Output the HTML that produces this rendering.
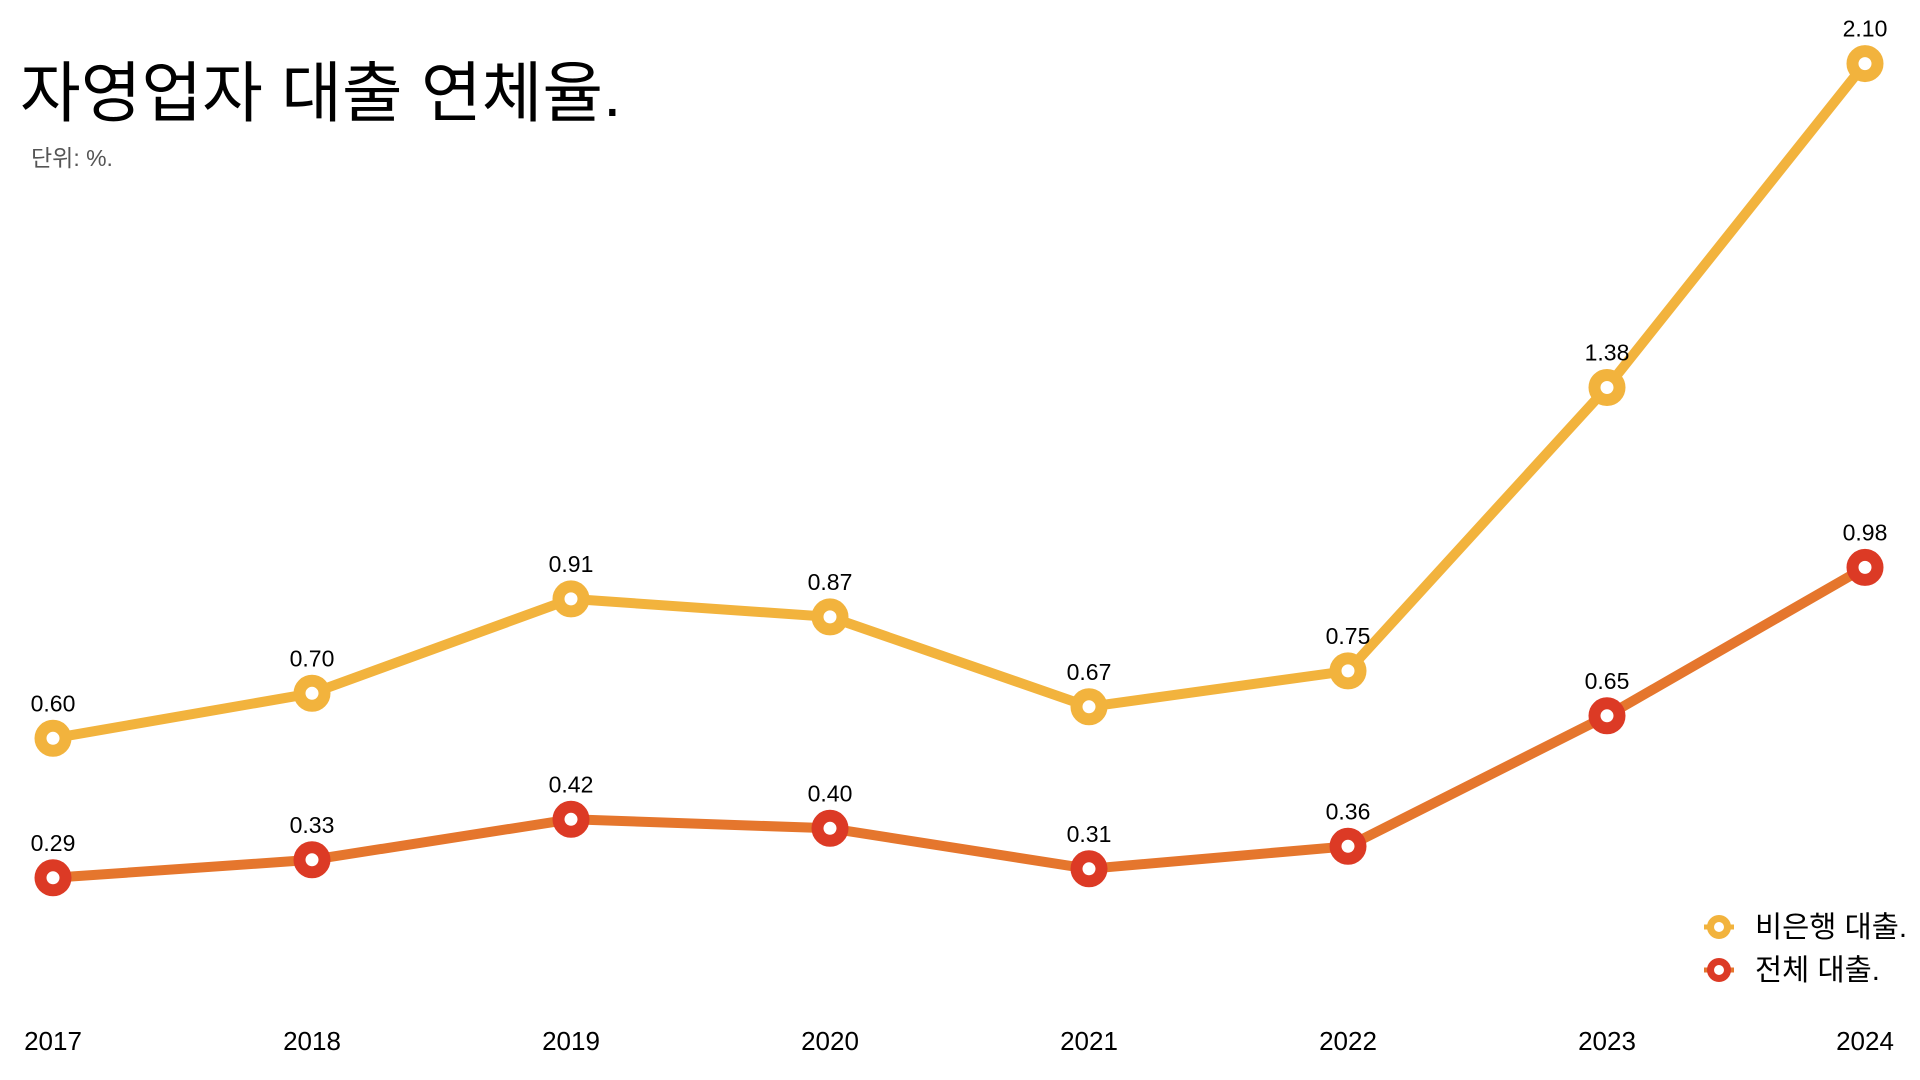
<!DOCTYPE html>
<html><head><meta charset="utf-8"><style>
html,body{margin:0;padding:0;background:#fff;width:1920px;height:1080px;overflow:hidden}
svg text{font-family:"Liberation Sans","Noto Sans CJK KR",sans-serif}
</style></head><body>
<svg width="1920" height="1080" xmlns="http://www.w3.org/2000/svg">
<text x="20" y="116" font-size="66" fill="#000">자영업자 대출 연체율.</text>
<text x="31" y="166" font-size="23" fill="#555">단위: %.</text>
<g id="g"></g>
<g font-size="26" fill="#000" text-anchor="middle">
<text x="53" y="1050">2017</text><text x="312" y="1050">2018</text><text x="571" y="1050">2019</text><text x="830" y="1050">2020</text><text x="1089" y="1050">2021</text><text x="1348" y="1050">2022</text><text x="1607" y="1050">2023</text><text x="1865" y="1050">2024</text>
</g>
<g>
<line x1="1704" y1="927" x2="1734" y2="927" stroke="#F2B33D" stroke-width="5"/>
<circle cx="1719" cy="927" r="8.5" fill="#fff" stroke="#F2B33D" stroke-width="7"/>
<line x1="1704" y1="970" x2="1734" y2="970" stroke="#E5762D" stroke-width="5"/>
<circle cx="1719" cy="970" r="8.5" fill="#fff" stroke="#DC3A25" stroke-width="7"/>
<text x="1755" y="937" font-size="29.5" fill="#000">비은행 대출.</text>
<text x="1755" y="980" font-size="29.5" fill="#000">전체 대출.</text>
</g>
</svg>
<script>
var xs=[53,312,571,830,1089,1348,1607,1865];
var a=[0.60,0.70,0.91,0.87,0.67,0.75,1.38,2.10];
var b=[0.29,0.33,0.42,0.40,0.31,0.36,0.65,0.98];
function y(v){return 1008.2-v*449.8;}
var g=document.getElementById('g');var h='';
function series(d,lc,mc){
 var p=d.map(function(v,i){return xs[i]+','+y(v).toFixed(1)}).join(' ');
 h+='<polyline points="'+p+'" fill="none" stroke="'+lc+'" stroke-width="10" stroke-linejoin="round"/>';
 d.forEach(function(v,i){var yy=y(v);
  h+='<circle cx="'+xs[i]+'" cy="'+yy.toFixed(1)+'" r="12.5" fill="#fff" stroke="'+mc+'" stroke-width="12"/>';
  h+='<text x="'+xs[i]+'" y="'+(yy-27).toFixed(1)+'" font-size="23" text-anchor="middle" fill="#000">'+v.toFixed(2)+'</text>';});
}
series(a,'#F2B33D','#F2B33D');series(b,'#E5762D','#DC3A25');
g.innerHTML=h;
</script>
</body></html>
